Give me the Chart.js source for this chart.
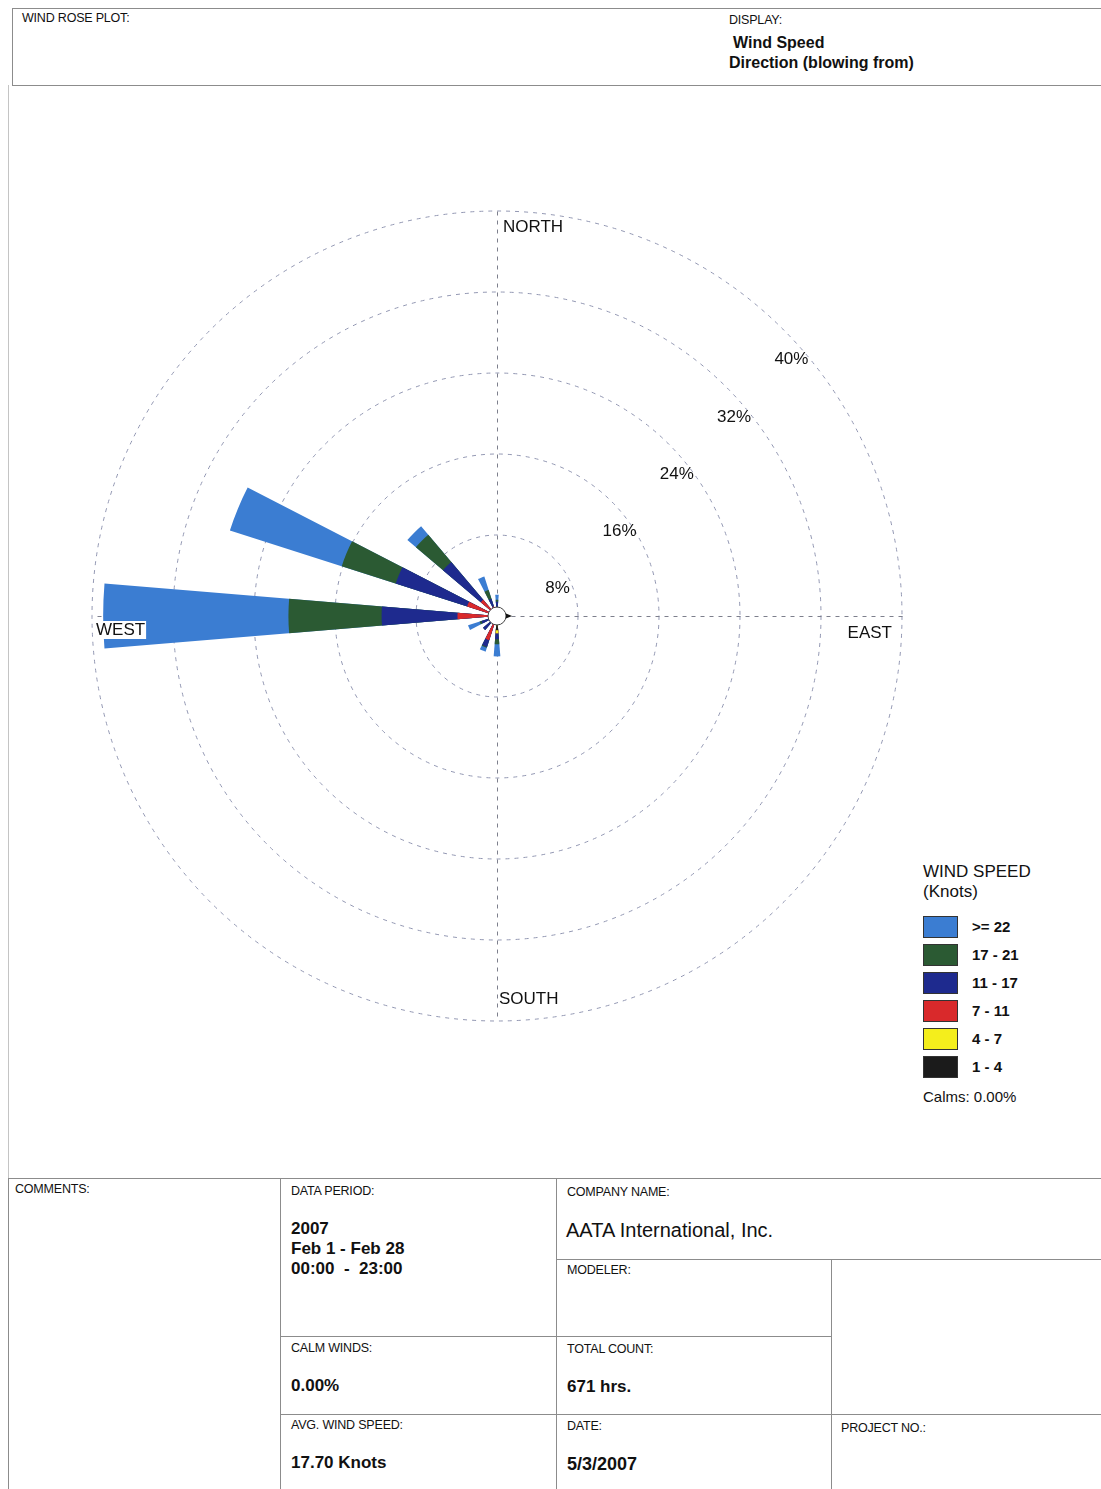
<!DOCTYPE html>
<html>
<head>
<meta charset="utf-8">
<title>Wind Rose Plot</title>
<script src="https://cdn.jsdelivr.net/npm/chart.js@4.4.1/dist/chart.umd.min.js"></script>
<style>
  html, body { margin: 0; padding: 0; background: #fff; }
  body { width: 1101px; height: 1489px; position: relative; overflow: hidden;
         font-family: "Liberation Sans", Arial, Helvetica, sans-serif; color: #111; }
  .t { position: absolute; white-space: pre; line-height: 1; }
  .lbl { font-size: 12.5px; letter-spacing: -0.2px; }
  .val { font-size: 17px; font-weight: bold; }
  .hl { position: absolute; height: 0; border-top: 1px solid #8c8c8c; }
  .vl { position: absolute; width: 0; border-left: 1px solid #8c8c8c; }
  #rose { position: absolute; left: 82px; top: 201px; }
  .sw { position: absolute; left: 923px; width: 33px; height: 20px; border: 1px solid #333; }
  .swl { font-size: 15px; font-weight: bold; left: 972px; }
</style>
</head>
<body>

<!-- header box -->
<div class="hl" style="left:12px; top:8px; width:1089px;"></div>
<div class="hl" style="left:12px; top:85px; width:1089px;"></div>
<div class="vl" style="left:12px; top:8px; height:77px;"></div>
<div class="vl" style="left:8px; top:85px; height:1093px; border-color:#c4c4c4;"></div>
<div class="t lbl" style="left:22px; top:12px;">WIND ROSE PLOT:</div>
<div class="t lbl" style="left:729px; top:14px;">DISPLAY:</div>
<div class="t" style="left:733px; top:35px; font-size:16px; font-weight:bold;">Wind Speed</div>
<div class="t" style="left:729px; top:55px; font-size:16px; font-weight:bold;">Direction (blowing from)</div>

<canvas id="rose" width="830" height="830"></canvas>

<!-- legend -->
<div class="t" style="left:923px; top:863px; font-size:17px;">WIND SPEED</div>
<div class="t" style="left:923px; top:883px; font-size:17px;">(Knots)</div>
<div id="legend"></div>
<div class="t" style="left:923px; top:1089px; font-size:15px;">Calms: 0.00%</div>

<!-- footer table -->
<div class="hl" style="left:8px; top:1178px; width:1093px;"></div>
<div class="hl" style="left:556px; top:1259px; width:545px;"></div>
<div class="hl" style="left:280px; top:1336px; width:551px;"></div>
<div class="hl" style="left:280px; top:1414px; width:821px;"></div>
<div class="vl" style="left:8px; top:1178px; height:311px;"></div>
<div class="vl" style="left:280px; top:1178px; height:311px;"></div>
<div class="vl" style="left:556px; top:1178px; height:311px;"></div>
<div class="vl" style="left:831px; top:1259px; height:230px;"></div>

<div class="t lbl" style="left:15px; top:1183px;">COMMENTS:</div>
<div class="t lbl" style="left:291px; top:1185px;">DATA PERIOD:</div>
<div class="t val" style="left:291px; top:1220px;">2007</div>
<div class="t val" style="left:291px; top:1240px;">Feb 1 - Feb 28</div>
<div class="t val" style="left:291px; top:1260px;">00:00  -  23:00</div>
<div class="t lbl" style="left:567px; top:1186px;">COMPANY NAME:</div>
<div class="t" style="left:566px; top:1220px; font-size:20px;">AATA International, Inc.</div>
<div class="t lbl" style="left:567px; top:1264px;">MODELER:</div>
<div class="t lbl" style="left:291px; top:1342px;">CALM WINDS:</div>
<div class="t val" style="left:291px; top:1377px;">0.00%</div>
<div class="t lbl" style="left:567px; top:1343px;">TOTAL COUNT:</div>
<div class="t val" style="left:567px; top:1378px;">671 hrs.</div>
<div class="t lbl" style="left:291px; top:1419px;">AVG. WIND SPEED:</div>
<div class="t val" style="left:291px; top:1454px;">17.70 Knots</div>
<div class="t lbl" style="left:567px; top:1420px;">DATE:</div>
<div class="t val" style="left:567px; top:1455px; font-size:18px;">5/3/2007</div>
<div class="t lbl" style="left:841px; top:1422px;">PROJECT NO.:</div>

<script>
// compass points, clockwise from north
const directions = ['N', 'NNE', 'NE', 'ENE', 'E', 'ESE', 'SE', 'SSE',
                    'S', 'SSW', 'SW', 'WSW', 'W', 'WNW', 'NW', 'NNW'];

// frequency (% of hours) per direction for each speed band
const knots1to4   = [0.1, 0, 0, 0, 0, 0, 0, 0, 1.4, 0.3, 0.2, 0.2, 0.3, 0.2, 0.1, 0.1];
const knots4to7   = [0.1, 0, 0, 0, 0, 0, 0, 0, 0.3, 0.2, 0.1, 0.1, 0.4, 0.3, 0.2, 0.1];
const knots7to11  = [0.3, 0, 0, 0, 0, 0, 0, 0, 0.0, 2.0, 0.4, 0.5, 3.2, 2.6, 1.8, 0.8];
const knots11to17 = [0.9, 0, 0, 0, 0, 0, 0, 0, 0.6, 0.7, 1.1, 0.8, 7.5, 7.4, 4.9, 0.8];
const knots17to21 = [0.2, 0, 0, 0, 0, 0, 0, 0, 0.5, 0.1, 0.0, 0.2, 9.2, 5.6, 3.5, 0.9];
const knots22up   = [0.5, 0, 0, 0, 0, 0, 0, 0, 1.2, 0.4, 0.0, 1.2, 18.3, 11.6, 1.1, 1.4];

const speedBands  = [knots1to4, knots4to7, knots7to11, knots11to17, knots17to21, knots22up];
const bandLabels  = ['1 - 4', '4 - 7', '7 - 11', '11 - 17', '17 - 21', '>= 22'];
const bandColors  = ['#1b1b1b', '#f4ee1c', '#d9292b', '#1e2a8e', '#2b5a33', '#3b7dd2'];

const ringTicks = [8, 16, 24, 32, 40];

const barAngle = 9.5;               // degrees covered by each petal
const gapAngle = 22.5 - barAngle;   // empty space up to the next direction

// petals are stacked by drawing cumulative totals, widest band underneath
let running = directions.map(() => 0);
const cumulative = speedBands.map(band => {
  running = running.map((v, i) => v + band[i]);
  return running.slice();
});

// every direction is followed by an empty slot so the petals get gaps
const slotLabels = directions.flatMap(d => [d, '']);
const datasets = cumulative.map((vals, k) => ({
  label: bandLabels[k],
  data: vals.flatMap(v => [v, 0]),
  backgroundColor: bandColors[k],
  borderWidth: 0,
  angle: ctx => (ctx.dataIndex % 2 ? gapAngle : barAngle)
}));

// legend, top entry is the strongest band
const legend = document.getElementById('legend');
bandLabels.slice().reverse().forEach((lab, i) => {
  const col = bandColors[bandColors.length - 1 - i];
  const top = 916 + i * 28;
  legend.insertAdjacentHTML('beforeend',
    `<div class="sw" style="top:${top}px; background:${col};"></div>` +
    `<div class="t swl" style="top:${top + 3}px;">${lab}</div>`);
});

const FONT = '"Liberation Sans", Arial, sans-serif';

function compassPoint(scale, dist, bearing) {
  const a = bearing * Math.PI / 180;
  return { x: scale.xCenter + Math.sin(a) * dist, y: scale.yCenter - Math.cos(a) * dist };
}

function labelWithBackdrop(ctx, text, x, y, align) {
  ctx.textAlign = align;
  const w = ctx.measureText(text).width;
  const left = align === 'right' ? x - w : x;
  ctx.fillStyle = '#fff';
  ctx.fillRect(left - 1, y - 9, w + 2, 18);
  ctx.fillStyle = '#111';
  ctx.fillText(text, x, y);
}

const compassPlugin = {
  id: 'compass',
  beforeDatasetsDraw(chart) {
    const r = chart.scales.r;
    const ctx = chart.ctx;
    const outer = r.getDistanceFromCenterForValue(r.max);
    ctx.save();
    ctx.strokeStyle = '#7d7f8c';
    ctx.lineWidth = 1;
    ctx.setLineDash([4, 5]);
    [0, 90].forEach(b => {
      const p = compassPoint(r, outer, b);
      const q = compassPoint(r, outer, b + 180);
      ctx.beginPath();
      ctx.moveTo(Math.round(p.x) + 0.5, Math.round(p.y) + 0.5);
      ctx.lineTo(Math.round(q.x) + 0.5, Math.round(q.y) + 0.5);
      ctx.stroke();
    });
    ctx.restore();
  },
  afterDatasetsDraw(chart) {
    const r = chart.scales.r;
    const ctx = chart.ctx;
    const xc = r.xCenter, yc = r.yCenter;
    const outer = r.getDistanceFromCenterForValue(r.max);
    ctx.save();

    // calm circle
    ctx.beginPath();
    ctx.arc(xc, yc, 9, 0, Math.PI * 2);
    ctx.fillStyle = '#fff';
    ctx.fill();
    ctx.strokeStyle = '#444';
    ctx.lineWidth = 1;
    ctx.stroke();
    ctx.beginPath();
    ctx.moveTo(xc + 9, yc - 2.5);
    ctx.lineTo(xc + 15, yc);
    ctx.lineTo(xc + 9, yc + 2.5);
    ctx.closePath();
    ctx.fillStyle = '#111';
    ctx.fill();

    ctx.font = '17px ' + FONT;
    ctx.textBaseline = 'middle';
    labelWithBackdrop(ctx, 'NORTH', xc + 6, yc - outer + 16, 'left');
    labelWithBackdrop(ctx, 'EAST', xc + outer - 10, yc + 17, 'right');
    labelWithBackdrop(ctx, 'SOUTH', xc + 2, yc + outer - 22, 'left');
    labelWithBackdrop(ctx, 'WEST', xc - outer + 4, yc + 14, 'left');

    // ring values along the north-east diagonal
    ctx.fillStyle = '#111';
    ctx.textAlign = 'left';
    ringTicks.forEach(v => {
      const p = compassPoint(r, r.getDistanceFromCenterForValue(v), 45);
      ctx.fillText(v + '%', p.x - 9, p.y + 30);
    });
    ctx.restore();
  }
};

new Chart(document.getElementById('rose'), {
  type: 'polarArea',
  data: { labels: slotLabels, datasets: datasets },
  options: {
    responsive: false,
    animation: false,
    layout: { padding: 10 },
    plugins: { legend: { display: false }, tooltip: { enabled: false } },
    scales: {
      r: {
        min: 0,
        max: 40,
        startAngle: -barAngle / 2,
        ticks: { stepSize: 8, display: false },
        grid: { circular: true, color: '#9297b2', lineWidth: 1 },
        border: { dash: [4, 5] },
        angleLines: { display: false },
        pointLabels: { display: false }
      }
    }
  },
  plugins: [compassPlugin]
});
</script>
</body>
</html>
